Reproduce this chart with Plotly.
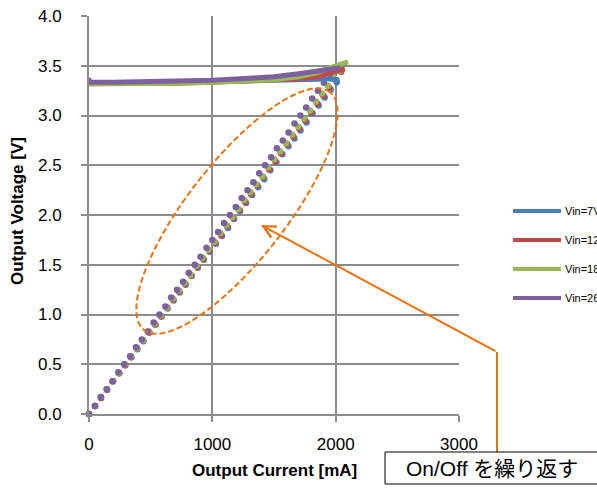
import math
import plotly.graph_objects as go

# ---------------- data ----------------
series_names = ["Vin=7V", "Vin=12V", "Vin=18V", "Vin=26V"]
series_colors = ["#4A7EBB", "#BE4B48", "#98B954", "#7D60A0"]

# constant-voltage region (solid thick lines)
cv_I_7 = [0, 200, 500, 800, 1000, 1300, 1500, 1700, 1850, 1950, 1990, 2010, 2010, 1995]
cv_V_7 = [3.325, 3.325, 3.33, 3.335, 3.34, 3.345, 3.35, 3.36, 3.365, 3.37, 3.37, 3.36, 3.33, 3.31]
cv_I_12 = [0, 300, 700, 1000, 1300, 1500, 1700, 1850, 1950, 2030, 2075]
cv_V_12 = [3.32, 3.32, 3.325, 3.335, 3.345, 3.355, 3.37, 3.39, 3.42, 3.45, 3.47]
cv_I_18 = [0, 300, 700, 1000, 1300, 1500, 1700, 1850, 1950, 2040, 2100]
cv_V_18 = [3.32, 3.32, 3.325, 3.335, 3.35, 3.36, 3.39, 3.43, 3.48, 3.51, 3.54]
cv_I_26 = [0, 0, 200, 500, 800, 1000, 1300, 1500, 1700, 1850, 1950, 2040]
cv_V_26 = [3.38, 3.335, 3.335, 3.34, 3.345, 3.355, 3.375, 3.39, 3.42, 3.44, 3.465, 3.48]

# hiccup (On/Off) region (dots)
dot_I_7 = [0, 49, 98, 147, 196, 245, 294, 343, 392, 441, 490, 539, 588, 637, 686, 735, 784, 833,
           882, 931, 980, 1029, 1078, 1127, 1176, 1225, 1274, 1323, 1372, 1421, 1470, 1519, 1568,
           1617, 1666, 1715, 1764, 1813, 1862, 1911, 1960, 2009]
dot_V_7 = [0.00, 0.08, 0.16, 0.24, 0.33, 0.41, 0.49, 0.57, 0.65, 0.73, 0.82, 0.90, 0.98, 1.06, 1.14,
           1.22, 1.30, 1.39, 1.47, 1.55, 1.63, 1.71, 1.79, 1.87, 1.96, 2.04, 2.12, 2.20, 2.28, 2.36,
           2.45, 2.53, 2.61, 2.69, 2.77, 2.85, 2.93, 3.02, 3.10, 3.18, 3.26, 3.34]
dot_I_12 = [0, 49, 97, 146, 195, 244, 292, 341, 390, 438, 487, 536, 584, 633, 682, 731, 779, 828,
            877, 925, 974, 1023, 1071, 1120, 1169, 1218, 1266, 1315, 1364, 1412, 1461, 1510, 1558,
            1607, 1656, 1705, 1753, 1802, 1851, 1899, 1948, 1997, 2045]
dot_V_12 = [0.00, 0.08, 0.16, 0.25, 0.33, 0.41, 0.49, 0.57, 0.66, 0.74, 0.82, 0.90, 0.98, 1.07, 1.15,
            1.23, 1.31, 1.39, 1.48, 1.56, 1.64, 1.72, 1.80, 1.89, 1.97, 2.05, 2.13, 2.21, 2.30, 2.38,
            2.46, 2.54, 2.62, 2.71, 2.79, 2.87, 2.95, 3.03, 3.12, 3.20, 3.28, 3.36, 3.44]
dot_I_18 = [0, 48, 97, 145, 194, 242, 290, 339, 387, 436, 484, 532, 581, 629, 678, 726, 774, 823,
            871, 920, 968, 1016, 1065, 1113, 1162, 1210, 1258, 1307, 1355, 1404, 1452, 1500, 1549,
            1597, 1646, 1694, 1742, 1791, 1839, 1888, 1936, 1984, 2033]
dot_V_18 = [0.00, 0.08, 0.17, 0.25, 0.33, 0.41, 0.50, 0.58, 0.66, 0.74, 0.83, 0.91, 0.99, 1.07, 1.16,
            1.24, 1.32, 1.40, 1.49, 1.57, 1.65, 1.73, 1.82, 1.90, 1.98, 2.06, 2.15, 2.23, 2.31, 2.39,
            2.48, 2.56, 2.64, 2.72, 2.81, 2.89, 2.97, 3.05, 3.14, 3.22, 3.30, 3.38, 3.45]
dot_I_26 = [0, 48, 95, 143, 190, 238, 286, 333, 381, 428, 476, 524, 571, 619, 666, 714, 762, 809,
            857, 904, 952, 1000, 1047, 1095, 1142, 1190, 1238, 1285, 1333, 1380, 1428, 1476, 1523,
            1571, 1618, 1666, 1714, 1761, 1809, 1856, 1904, 1952]
dot_V_26 = [0.00, 0.08, 0.17, 0.25, 0.33, 0.42, 0.50, 0.58, 0.67, 0.75, 0.83, 0.92, 1.00, 1.08, 1.17,
            1.25, 1.33, 1.42, 1.50, 1.58, 1.67, 1.75, 1.83, 1.92, 2.00, 2.08, 2.17, 2.25, 2.33, 2.42,
            2.50, 2.58, 2.67, 2.75, 2.83, 2.92, 3.00, 3.08, 3.17, 3.25, 3.33, 3.42]

x_ticks = [0, 1000, 2000, 3000]
y_ticks = [0.0, 0.5, 1.0, 1.5, 2.0, 2.5, 3.0, 3.5, 4.0]
x_title = "Output Current [mA]"
y_title = "Output Voltage [V]"
note_text = "On/Off を繰り返す"

cv_I = [cv_I_7, cv_I_12, cv_I_18, cv_I_26]
cv_V = [cv_V_7, cv_V_12, cv_V_18, cv_V_26]
dot_I = [dot_I_7, dot_I_12, dot_I_18, dot_I_26]
dot_V = [dot_V_7, dot_V_12, dot_V_18, dot_V_26]

# ---------------- layout geometry ----------------
W, H = 597, 495
ML, MR, MT, MB = 89, 138, 16, 81
PW, PH = W - ML - MR, H - MT - MB
XMAX, YMAX = 3000, 4.0
sx, sy = PW / XMAX, PH / YMAX


def px2paper(px, py):
    return (px - ML) / PW, (H - MB - py) / PH


ORANGE = "#E8720C"
GRID = "#8C8C8C"
FONT = "Liberation Sans, Arial, sans-serif"

fig = go.Figure()

for i in range(4):
    fig.add_trace(go.Scatter(
        x=dot_I[i], y=dot_V[i], mode="markers",
        marker=dict(color=series_colors[i], size=6.5, line=dict(width=0)),
        showlegend=False, cliponaxis=False, hoverinfo="skip"))
for i in range(4):
    fig.add_trace(go.Scatter(
        x=cv_I[i], y=cv_V[i], mode="lines", name=series_names[i],
        line=dict(color=series_colors[i], width=5),
        showlegend=False))

shapes = []
annotations = []

# dashed ellipse around the hiccup region
cx, cy = (237 - ML) / sx, (H - MB - 211) / sy
a_px, b_px, th = 151, 49, math.radians(52)
pts = []
for k in range(73):
    t = 2 * math.pi * k / 72
    dx = a_px * math.cos(t) * math.cos(th) - b_px * math.sin(t) * math.sin(th)
    dy = a_px * math.cos(t) * math.sin(th) + b_px * math.sin(t) * math.cos(th)
    pts.append((cx + dx / sx, cy + dy / sy))
path = "M" + " L".join(f"{p[0]:.2f},{p[1]:.4f}" for p in pts) + " Z"
shapes.append(dict(type="path", path=path, xref="x", yref="y",
                   line=dict(color=ORANGE, width=2, dash="6px,3px"), layer="above"))

# arrow
tip_x, tip_y = (261 - ML) / sx, (H - MB - 225) / sy
annotations.append(dict(x=tip_x, y=tip_y, xref="x", yref="y", text="", showarrow=True,
                        ax=236, ay=127, arrowhead=5, arrowsize=1.2, arrowwidth=2,
                        arrowcolor=ORANGE, standoff=0))
# vertical connector line
x0, y0 = px2paper(497, 352)
_, y1 = px2paper(497, 452)
shapes.append(dict(type="line", xref="paper", yref="paper", x0=x0, x1=x0, y0=y0, y1=y1,
                   line=dict(color=ORANGE, width=2)))
# note box
bx0, by0 = px2paper(385, 484)
bx1, by1 = px2paper(602, 452)
shapes.append(dict(type="rect", xref="paper", yref="paper", x0=bx0, x1=bx1, y0=by0, y1=by1,
                   line=dict(color="#000000", width=1), fillcolor="white"))
tx, ty = px2paper(492, 468)
annotations.append(dict(x=tx, y=ty, xref="paper", yref="paper", text=note_text, showarrow=False,
                        xanchor="center", yanchor="middle",
                        font=dict(family="Liberation Sans, Noto Sans CJK JP, sans-serif", size=21, color="#000")))

# legend (manual)
leg_y = [211, 240, 269, 298]
for i in range(4):
    lx0, ly = px2paper(513, leg_y[i])
    lx1, _ = px2paper(561, leg_y[i])
    shapes.append(dict(type="line", xref="paper", yref="paper", x0=lx0, x1=lx1, y0=ly, y1=ly,
                       line=dict(color=series_colors[i], width=4)))
    ltx, _ = px2paper(563, leg_y[i])
    annotations.append(dict(x=ltx, y=ly, xref="paper", yref="paper", text=series_names[i],
                            showarrow=False, xanchor="left", yanchor="middle",
                            font=dict(family=FONT, size=11, color="#000")))

# axis titles
xtx, xty = px2paper(274, 470)
annotations.append(dict(x=xtx, y=xty, xref="paper", yref="paper", text=x_title, showarrow=False,
                        xanchor="center", yanchor="middle",
                        font=dict(family=FONT, size=17, color="#000", weight="bold")))
ytx, yty = px2paper(18, 211)
annotations.append(dict(x=ytx, y=yty, xref="paper", yref="paper", text=y_title, showarrow=False,
                        xanchor="center", yanchor="middle", textangle=-90,
                        font=dict(family=FONT, size=17, color="#000", weight="bold")))

fig.update_layout(
    width=W, height=H,
    margin=dict(l=ML, r=MR, t=MT, b=MB, pad=0, autoexpand=False),
    paper_bgcolor="white", plot_bgcolor="white",
    showlegend=False,
    shapes=shapes, annotations=annotations,
    font=dict(family=FONT, size=17, color="#000"),
)
fig.update_xaxes(range=[0, XMAX], tickvals=x_ticks, tickformat="d",
                 showgrid=True, gridcolor=GRID, gridwidth=2,
                 showline=True, linecolor=GRID, linewidth=2,
                 ticks="outside", ticklen=6, tickwidth=2, tickcolor=GRID,
                 zeroline=False, ticklabelstandoff=8,
                 tickfont=dict(family=FONT, size=17, color="#000"))
fig.update_yaxes(range=[0, YMAX], tickvals=y_ticks, tickformat=".1f",
                 showgrid=True, gridcolor=GRID, gridwidth=2,
                 showline=True, linecolor=GRID, linewidth=2,
                 ticks="outside", ticklen=6, tickwidth=2, tickcolor=GRID,
                 zeroline=False, ticklabelstandoff=16,
                 tickfont=dict(family=FONT, size=17, color="#000"))

fig.write_html("out.html", config={"displayModeBar": False},
               post_script="document.body.style.margin='0';document.body.style.overflow='hidden';")
